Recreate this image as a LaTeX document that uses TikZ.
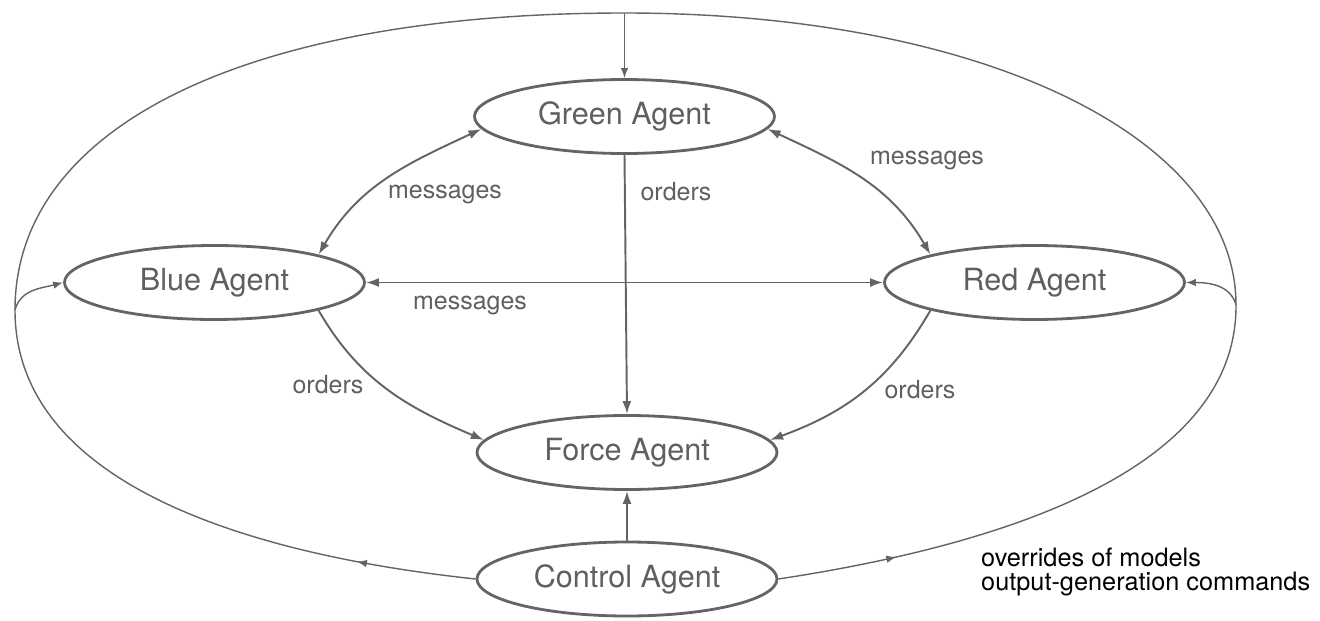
\documentclass[tikz,border=0pt]{standalone}
\usepackage{fontspec}
\setmainfont{TeX Gyre Heros}
\usetikzlibrary{arrows.meta,shapes.geometric,decorations.markings}
\definecolor{linegray}{RGB}{100,100,100}
\definecolor{textgray}{RGB}{95,95,95}

\begin{document}
\begin{tikzpicture}[>={Latex[length=2.6mm,width=1.8mm]},
    agent/.style={ellipse, draw=linegray, line width=1.6pt, minimum width=6cm, minimum height=1.48cm, inner sep=0pt, text=textgray, font=\fontsize{17.4}{20}\selectfont},
    conn/.style={draw=linegray, line width=1.1pt},
    loopline/.style={draw=linegray, line width=0.8pt},
    lbl/.style={text=textgray, font=\fontsize{14.2}{16}\selectfont},
    mid arrow/.style={postaction={decorate}, decoration={markings, mark=at position #1 with {\arrow{Latex[length=2mm,width=1.5mm]}}}}]
  \useasboundingbox (0,0) rectangle (26.4,12.4);
  % agents
  \node[agent] (Green) at (12.49,10.07) {Green Agent};
  \node[agent] (Blue) at (4.29,6.75) {Blue Agent};
  \node[agent] (Red) at (20.69,6.75) {Red Agent};
  \node[agent] (Force) at (12.54,3.35) {Force Agent};
  \node[agent] (Control) at (12.54,0.82) {Control Agent};
  \coordinate (Top) at (12.49,12.14);
  \coordinate (Lft) at (0.3,6.2);
  \coordinate (Rgt) at (24.72,6.3);
  % messages and orders
  \draw[<->,conn] (Green.185) to[out=205,in=60] (Blue.15);
  \draw[<->,conn] (Green.-5) to[out=-25,in=120] (Red.165);
  \draw[<->,conn] (Blue.east) -- (Red.west);
  \draw[->,conn] (Green.south) -- (Force.north);
  \draw[->,conn] (Blue.-15) to[out=-60,in=157] (Force.175);
  \draw[->,conn] (Red.195) to[out=240,in=20] (Force.5);
  \draw[->,conn] (Control.north) -- (Force.south);
  \node[lbl] (msgGB) at (8.9,8.52) {messages};
  \node[lbl] (msgGR) at (18.54,9.2) {messages};
  \node[lbl] (msgBR) at (9.4,6.3) {messages};
  \node[lbl] (ordGF) at (13.52,8.56) {orders};
  \node[lbl] (ordBF) at (6.56,4.7) {orders};
  \node[lbl] (ordRF) at (18.4,4.6) {orders};
  % control loop
  \draw[loopline, mid arrow=2.4cm] (Control.west) .. controls (5.02,1.3) and (0.3,2.7) .. (Lft)
    .. controls (0.3,9.88) and (4.93,12.14) .. (Top);
  \draw[loopline, mid arrow=2.4cm] (Control.east) .. controls (20.06,1.5) and (24.74,3.0) .. (Rgt)
    .. controls (24.72,9.69) and (19.58,12.14) .. (Top);
  \draw[->,loopline,>={Latex[length=2mm,width=1.5mm]}] (Top) -- (Green.north);
  \draw[->,loopline,>={Latex[length=2mm,width=1.5mm]}] (Lft) to[out=75,in=195] (Blue.west);
  \draw[->,loopline,>={Latex[length=2mm,width=1.5mm]}] (Rgt) to[out=105,in=0] (Red.east);
  \node[anchor=west, align=left, font=\fontsize{14.4}{13.1}\selectfont] (Note) at (19.5,0.96) {overrides of models\\output-generation commands};
\end{tikzpicture}
\end{document}
